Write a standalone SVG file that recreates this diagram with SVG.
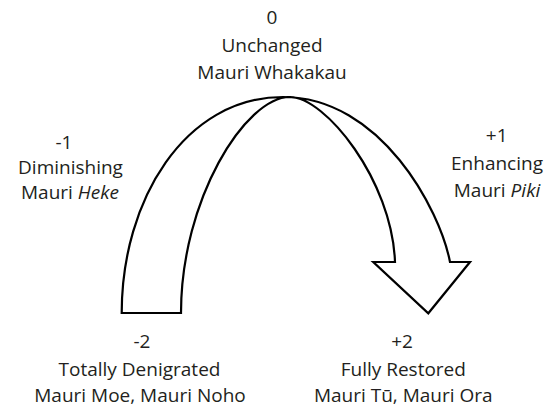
<svg xmlns="http://www.w3.org/2000/svg" width="557" height="407" viewBox="0 0 557 407">
  <style>
    .lbl { font-family: "Open Sans", "Liberation Sans", sans-serif; font-size: 19px; fill: #231f20; text-anchor: middle; }
    .it { font-style: italic; }
    .arrow { fill: #ffffff; stroke: #000000; stroke-width: 2.2; stroke-linejoin: miter; }
  </style>
  <rect width="557" height="407" fill="#ffffff"/>
  <g id="connectors">
    <path class="arrow" d="M121.7,313 C121.7,200 185,97 283,97 C381,97 440,210 450,262 L470,262 L428.3,313.3 L373.3,262 L395,262 C392,180 325,97 290,97 C245,97 181,200 181,313 Z"/>
  </g>
  <g id="node-0">
    <text class="lbl" x="272" y="24">0</text>
    <text class="lbl" x="272" y="51.7">Unchanged</text>
    <text class="lbl" x="272" y="79">Mauri Whakakau</text>
  </g>
  <g id="node-minus1">
    <text class="lbl" x="64" y="149.3">-1</text>
    <text class="lbl" x="70.5" y="174">Diminishing</text>
    <text class="lbl" x="70" y="199">Mauri <tspan class="it">Heke</tspan></text>
  </g>
  <g id="node-plus1">
    <text class="lbl" x="496.7" y="141.7">+1</text>
    <text class="lbl" x="497" y="170">Enhancing</text>
    <text class="lbl" x="497" y="197">Mauri <tspan class="it">Piki</tspan></text>
  </g>
  <g id="node-minus2">
    <text class="lbl" x="142" y="348">-2</text>
    <text class="lbl" x="139.5" y="376">Totally Denigrated</text>
    <text class="lbl" x="140" y="402.3">Mauri Moe, Mauri Noho</text>
  </g>
  <g id="node-plus2">
    <text class="lbl" x="402" y="348">+2</text>
    <text class="lbl" x="403.3" y="376">Fully Restored</text>
    <text class="lbl" x="403.3" y="402.3">Mauri Tū, Mauri Ora</text>
  </g>
</svg>
